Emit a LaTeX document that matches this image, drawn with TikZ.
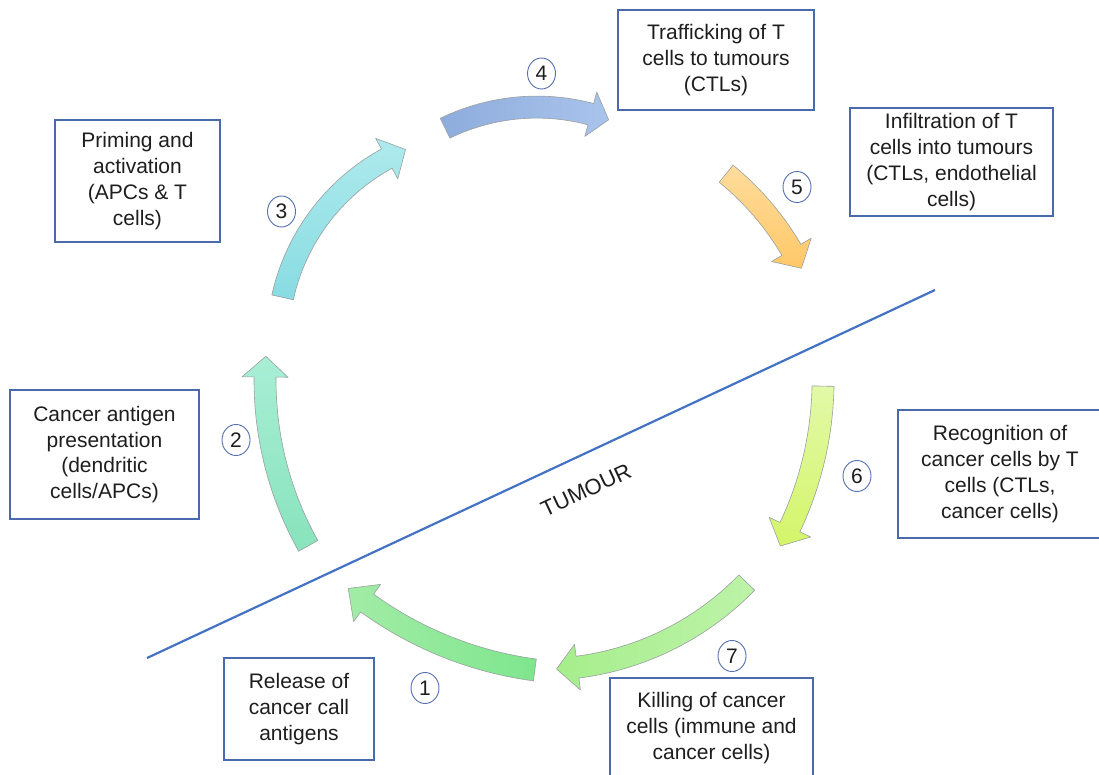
\documentclass[tikz,border=0pt]{standalone}
\usepackage{fontspec}
\setmainfont{Liberation Sans}
\usetikzlibrary{shapes.geometric}
\definecolor{boxblue}{HTML}{4A6AAE}
\definecolor{lineblue}{HTML}{4472C4}
\definecolor{numblue}{HTML}{5470B0}
\definecolor{txt}{HTML}{1E1E1E}
\definecolor{edgegray}{HTML}{9AA0A0}
% arrow colours
\definecolor{aOneA}{HTML}{A2ECA6}\definecolor{aOneB}{HTML}{7EE68D}
\definecolor{aTwoA}{HTML}{A8EED6}\definecolor{aTwoB}{HTML}{88E3BC}
\definecolor{aThrA}{HTML}{AEEAED}\definecolor{aThrB}{HTML}{88DCE2}
\definecolor{aFouA}{HTML}{8EACDC}\definecolor{aFouB}{HTML}{A9C4EC}
\definecolor{aFivA}{HTML}{FFDC9C}\definecolor{aFivB}{HTML}{FFC868}
\definecolor{aSixA}{HTML}{E2F9A8}\definecolor{aSixB}{HTML}{D4F56A}
\definecolor{aSevA}{HTML}{A6EE8C}\definecolor{aSevB}{HTML}{BDF3A8}
\newcommand{\cyclearrow}[7]{%
  % #1 cx, #2 cy, #3 R, #4 tail angle, #5 head-base angle, #6 tip angle, #7 style
  \pgfmathsetmacro\arRo{#3+11}\pgfmathsetmacro\arRi{#3-11}%
  \pgfmathsetmacro\arHo{#3+23}\pgfmathsetmacro\arHi{#3-23}%
  \path[arrowbody,#7] plot[domain=#4:#5, samples=40] ({#1+\arRo*cos(\x)},{#2+\arRo*sin(\x)})
     -- ({#1+\arHo*cos(#5)},{#2+\arHo*sin(#5)})
     -- ({#1+#3*cos(#6)},{#2+#3*sin(#6)})
     -- ({#1+\arHi*cos(#5)},{#2+\arHi*sin(#5)})
     -- plot[domain=#5:#4, samples=40] ({#1+\arRi*cos(\x)},{#2+\arRi*sin(\x)})
     -- cycle;
}
\tikzset{
  box/.style={draw=boxblue, line width=1.1pt, align=center, inner sep=0pt,
    text=txt, font=\fontsize{21}{25.8}\selectfont},
  num/.style={ellipse, draw=numblue, line width=0.9pt, inner sep=0pt,
    minimum width=28, minimum height=31, text=txt, font=\fontsize{21}{24}\selectfont},
  arrowbody/.style={draw=edgegray, line width=0.6pt, line join=round},
}
\begin{document}
\begin{tikzpicture}[x=1pt, y=-1pt]
\useasboundingbox (0,0) rectangle (1099,775);
\fill[white] (0,0) rectangle (1099,775);

% tumour boundary
\coordinate (tl) at (147,658);
\coordinate (tr) at (935,290);
\draw[lineblue, line width=2.2pt] (tl) -- (tr);
\node[rotate=25, text=txt, font=\fontsize{22}{24}\selectfont] (tumour) at (586,490) {TUMOUR};

% cycle arrows
\cyclearrow{583.7}{303.8}{369.4}{97.6}{125.9}{129.6}{left color=aOneA, right color=aOneB}
\cyclearrow{605}{380}{340}{150.8}{180.5}{184}{top color=aTwoA, bottom color=aTwoB}
\cyclearrow{487.6}{342.8}{210}{-167.5}{-118.7}{-113}{top color=aThrA, bottom color=aThrB}
\cyclearrow{536.8}{317.1}{210}{-115.9}{-75.1}{-70}{left color=aFouA, right color=aFouB}
\cyclearrow{545}{395}{286}{-50.7}{-30.5}{-26.3}{top color=aFivA, bottom color=aFivB}
\cyclearrow{477.5}{379.5}{345.6}{1.1}{25.3}{28.8}{top color=aSixA, bottom color=aSixB}
\cyclearrow{541}{382.5}{287}{44.2}{82.7}{86.9}{left color=aSevA, right color=aSevB}

% boxes
\node[box, minimum width=196, minimum height=100] (b4) at (716,60) {Trafficking of T\\cells to tumours\\(CTLs)};
\node[box, minimum width=203, minimum height=108] (b5) at (951.5,162) {Infiltration of T\\cells into tumours\\(CTLs, endothelial\\cells)};
\node[box, minimum width=165, minimum height=122] (b3) at (137.5,181) {Priming and\\activation\\(APCs \& T\\cells)};
\node[box, minimum width=189, minimum height=129] (b2) at (104.5,454.5) {Cancer antigen\\presentation\\(dendritic\\cells/APCs)};
\node[box, minimum width=204, minimum height=128] (b6) at (1000,474) {Recognition of\\cancer cells by T\\cells (CTLs,\\cancer cells)};
\node[box, minimum width=150, minimum height=102] (b1) at (299,709) {Release of\\cancer call\\antigens};
\node[box, minimum width=203, minimum height=100] (b7) at (711.5,728) {Killing of cancer\\cells (immune and\\cancer cells)};

% step numbers
\node[num] (n1) at (425,688) {1};
\node[num] (n2) at (236,440) {2};
\node[num] (n3) at (281.5,211.5) {3};
\node[num] (n4) at (541.5,73.5) {4};
\node[num] (n5) at (797,187) {5};
\node[num] (n6) at (857,476) {6};
\node[num] (n7) at (732,656) {7};
\end{tikzpicture}
\end{document}
